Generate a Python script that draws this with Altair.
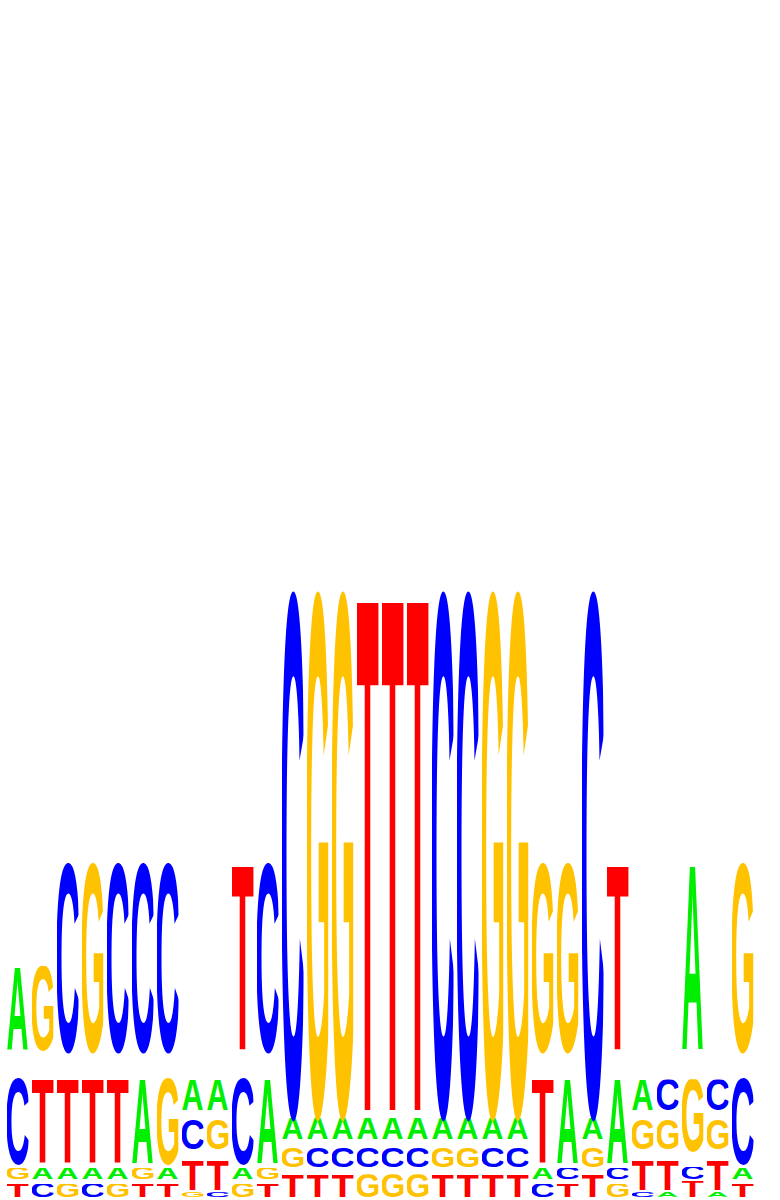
import base64
import altair as alt
import pandas as pd

# ---- data: one entry per logo position, letters listed bottom -> top ----
positions = list(range(1, 31))
stacks = ["TGCA", "CATG", "GATC", "CATG", "GATC", "TGAC", "TAGC", "GTCA", "CTGA", "GACT",
          "TGAC", "TGAC", "TCAG", "TCAG", "GCAT", "GCAT", "GCAT", "TGAC", "TGAC", "TCAG",
          "TCAG", "CATG", "TCAG", "TGAC", "GCAT", "CTGA", "ATGC", "TCGA", "ATGC", "TACG"]

# lower / upper edge (bits) of each letter, same order as in stacks
lows = [
    [0.003, 0.063, 0.117, 0.495], [0.003, 0.063, 0.117, 0.495], [0.003, 0.063, 0.117, 0.495],
    [0.003, 0.063, 0.117, 0.495], [0.003, 0.063, 0.117, 0.495], [0.003, 0.063, 0.117, 0.495],
    [0.003, 0.063, 0.117, 0.495], [0.004, 0.027, 0.165, 0.293], [0.004, 0.027, 0.165, 0.293],
    [0.003, 0.063, 0.117, 0.495], [0.003, 0.063, 0.117, 0.495], [0.003, 0.105, 0.197, 0.293],
    [0.003, 0.105, 0.197, 0.293], [0.003, 0.105, 0.197, 0.293], [0.003, 0.105, 0.197, 0.293],
    [0.003, 0.105, 0.197, 0.293], [0.003, 0.105, 0.197, 0.293], [0.003, 0.105, 0.197, 0.293],
    [0.003, 0.105, 0.197, 0.293], [0.003, 0.105, 0.197, 0.293], [0.003, 0.105, 0.197, 0.293],
    [0.003, 0.063, 0.117, 0.495], [0.003, 0.063, 0.117, 0.495], [0.003, 0.105, 0.197, 0.293],
    [0.003, 0.063, 0.117, 0.495], [0.004, 0.027, 0.165, 0.293], [0.004, 0.027, 0.165, 0.293],
    [0.003, 0.063, 0.157, 0.497], [0.004, 0.027, 0.165, 0.293], [0.003, 0.063, 0.117, 0.495],
]
highs = [
    [0.047, 0.100, 0.393, 0.767], [0.047, 0.100, 0.393, 0.767], [0.047, 0.100, 0.393, 1.103],
    [0.047, 0.100, 0.393, 1.103], [0.047, 0.100, 0.393, 1.103], [0.047, 0.100, 0.393, 1.103],
    [0.047, 0.100, 0.393, 1.103], [0.020, 0.125, 0.263, 0.393], [0.020, 0.125, 0.263, 0.393],
    [0.047, 0.100, 0.393, 1.103], [0.047, 0.100, 0.393, 1.103], [0.077, 0.168, 0.267, 1.983],
    [0.077, 0.168, 0.267, 1.983], [0.077, 0.168, 0.267, 1.983], [0.077, 0.168, 0.267, 1.983],
    [0.077, 0.168, 0.267, 1.983], [0.077, 0.168, 0.267, 1.983], [0.077, 0.168, 0.267, 1.983],
    [0.077, 0.168, 0.267, 1.983], [0.077, 0.168, 0.267, 1.983], [0.077, 0.168, 0.267, 1.983],
    [0.047, 0.100, 0.393, 1.103], [0.047, 0.100, 0.393, 1.103], [0.077, 0.168, 0.267, 1.983],
    [0.047, 0.100, 0.393, 1.103], [0.020, 0.125, 0.263, 0.393], [0.020, 0.125, 0.263, 0.393],
    [0.057, 0.103, 0.390, 1.103], [0.020, 0.125, 0.263, 0.393], [0.047, 0.100, 0.393, 1.103],
]

# ---- style: letter colours and glyph images (stretched to fill their box) ----
colors = {"A": "#00EE00", "C": "#0000FF", "G": "#FFC200", "T": "#FF0000"}
# ink box of each glyph at font-size 100, baseline at y=0 (x0, y0, w, h)
viewboxes = {
    "A": (0.0, -68.8, 72.2, 68.8),
    "C": (4.2, -69.9, 63.2, 71.0),
    "G": (4.2, -69.9, 67.6, 71.0),
    "T": (2.0, -68.8, 57.1, 68.8),
}


def glyph_url(letter):
    x0, y0, w, h = viewboxes[letter]
    svg = (
        f'<svg xmlns="http://www.w3.org/2000/svg" viewBox="{x0} {y0} {w} {h}" '
        f'preserveAspectRatio="none" width="{w}" height="{h}">'
        f'<text x="0" y="0" font-family="Liberation Sans" font-weight="bold" '
        f'font-size="100" fill="{colors[letter]}">{letter}</text></svg>'
    )
    return "data:image/svg+xml;base64," + base64.b64encode(svg.encode()).decode()


urls = {k: glyph_url(k) for k in colors}

rows = []
for p, s, lo, hi in zip(positions, stacks, lows, highs):
    for letter, a, b in zip(s, lo, hi):
        rows.append({"pos": p, "letter": letter, "lo": a, "hi": b, "url": urls[letter]})
df = pd.DataFrame(rows)

chart = (
    alt.Chart(df)
    .transform_calculate(
        xa="datum.pos - 0.44",
        xb="datum.pos + 0.44",
        pad="(datum.letter == 'C' || datum.letter == 'G') ? 0.024 * (datum.hi - datum.lo) : 0",
    )
    .transform_calculate(ya="datum.lo - datum.pad", yb="datum.hi + datum.pad")
    .mark_image(aspect=False)
    .encode(
        x=alt.X("xa:Q", scale=alt.Scale(domain=[0.5, 30.5], nice=False, zero=False), axis=None),
        x2="xb:Q",
        y=alt.Y("ya:Q", scale=alt.Scale(domain=[0, 2], nice=False, zero=False), axis=None),
        y2="yb:Q",
        url="url:N",
    )
    .properties(
        width=750,
        height=600,
        autosize=alt.AutoSizeParams(type="none"),
        padding={"left": 5, "top": 598, "right": 25, "bottom": 2},
        background="white",
    )
    .configure_view(strokeWidth=0)
)

chart.save("out.html", embed_options={"renderer": "svg", "actions": False})
